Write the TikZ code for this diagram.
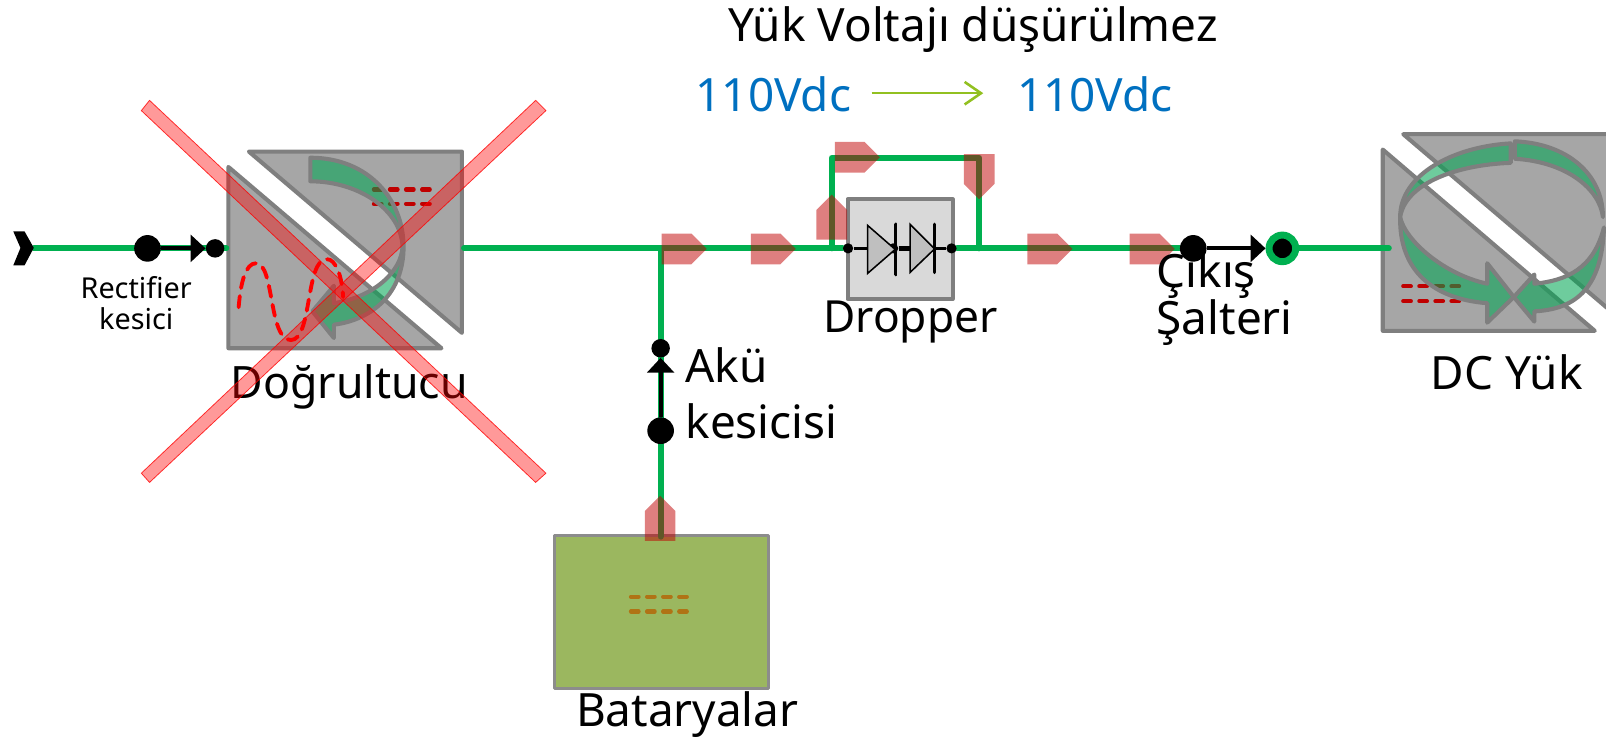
\documentclass[tikz,border=0pt]{standalone}
\usepackage{fontspec}
\setmainfont{Noto Sans}
\usetikzlibrary{arrows.meta}
\tikzset{>=latex}
\pgfdeclarelayer{back}
\pgfdeclarelayer{wires}
\pgfsetlayers{back,wires,main}
\definecolor{feedcol}{HTML}{00B050}
\definecolor{ribcol}{HTML}{00A552}
\definecolor{boxcol}{HTML}{A6A6A6}
\definecolor{edgecol}{HTML}{7F7F7F}
\definecolor{flowcol}{HTML}{C00000}
\definecolor{battcol}{HTML}{9BB75F}
\definecolor{battdash}{HTML}{B07315}
\definecolor{voltcol}{HTML}{0070C0}
\definecolor{gocol}{HTML}{92C020}
\tikzset{bigdot/.style={inner sep=0,circle,fill=black,minimum size=0.52cm}}
\tikzset{smalldot/.style={inner sep=0,circle,fill=black,minimum size=0.36cm}}
\tikzset{tinydot/.style={inner sep=0,circle,fill=black,minimum size=0.2cm}}
\tikzset{feeder/.style={feedcol,line width=1.15mm,line cap=round}}
\tikzset{breaker/.style={black,line width=0.8mm,-{Triangle[length=2.9mm,width=5.2mm]}}}
\tikzset{conv/.style={fill=boxcol,draw=edgecol,line width=0.8mm,line join=round}}
\tikzset{ribbon/.style={fill=ribcol,fill opacity=0.57,draw=edgecol,line width=0.8mm,line join=round}}
\tikzset{crossbar/.style={fill=red,fill opacity=0.4,draw=red,draw opacity=0.8,line width=0.15mm}}
\tikzset{dcmark/.style={line width=0.8mm,line cap=round,dash pattern=on 1.5mm off 1.64mm}}
\tikzset{big/.style={font=\fontsize{25.5}{22}\selectfont,inner sep=0,align=left}}
\tikzset{flowmark/.pic={\fill[flowcol,opacity=0.5] (0,-15) -- (29,-15) -- (44,0) -- (29,15) -- (0,15) -- cycle;}}

\begin{document}
\begin{tikzpicture}[x=0.02cm,y=-0.02cm]
    \useasboundingbox (0,0) rectangle (1568,725.4);

    % texts on top
    \node[big] (title) at (950,29) {Yük Voltajı düşürülmez};
    \node[big,voltcol] (vin) at (755,92) {110Vdc};
    \node[big,voltcol] (vout) at (1069,92) {110Vdc};
    \coordinate (goa) at (851,91);
    \coordinate (gob) at (960,91);
    \draw[gocol,line width=0.5mm,-{Straight Barb[length=3.2mm,width=4.4mm]}] (goa) -- (gob);

    \begin{pgfonlayer}{back}
    \clip (0,0) rectangle (1568,725.4);
    % converter and battery bodies
    \draw[conv] (223,163) -- (223,340) -- (431,340) -- cycle;
    \draw[conv] (243,148) -- (451,148) -- (451,325) -- cycle;
    \draw[conv] (1350,146) -- (1350,323) -- (1557,323) -- cycle;
    \draw[conv] (1370,131) -- (1620,131) -- (1620,344) -- cycle;
    \draw[fill=battcol,draw=edgecol!90,line width=0.55mm,line join=round] (541,522.5) rectangle (750.5,672.5);
    \draw[fill=black!15,draw=edgecol,line width=0.8mm,line join=round] (827.5,194.5) rectangle (930,292);

    % dc marks
    \draw[flowcol,dcmark] (365,185) -- (422,185);
    \draw[flowcol,dcmark] (365,199) -- (422,199);
    \draw[flowcol,dcmark] (1370,279.5) -- (1426,279.5);
    \draw[flowcol,dcmark] (1370,294) -- (1426,294);
    \draw[battdash,dcmark] (616,582.5) -- (673,582.5);
    \draw[battdash,dcmark] (616,597) -- (673,597);
    \draw[red,line width=0.75mm,dash pattern=on 2.2mm off 1.6mm,line cap=round] (233,300) .. controls (235,275) and (240,257) .. (250,257) .. controls (268,257) and (262,332) .. (284,332) .. controls (305,332) and (298,253) .. (319,253) .. controls (328,253) and (334,270) .. (335,290);

    % ribbons
    \draw[ribbon] (303,154) .. controls (360,154) and (394,195) .. (394,241) .. controls (394,285) and (365,312) .. (326,317) -- (326,330) -- (305,304) -- (326,279) -- (326,296) .. controls (365,290) and (392,265) .. (393,241) .. controls (392,205) and (350,177) .. (303,177) -- cycle;
    \draw[ribbon] (1367,212) .. controls (1367,170) and (1420,143) .. (1475,140) -- (1475,159) .. controls (1420,161) and (1372,180) .. (1367,212) -- cycle;
    \draw[ribbon] (1479,138) .. controls (1530,140) and (1565,170) .. (1565,212) .. controls (1562,185) and (1530,158) .. (1479,155) -- cycle;
    \draw[ribbon] (1367,212) .. controls (1372,235) and (1410,268) .. (1452,277) -- (1452,257) -- (1478,290) -- (1452,315) -- (1452,296) .. controls (1400,292) and (1366,265) .. (1367,212) -- cycle;
    \draw[ribbon] (1566,222) .. controls (1564,285) and (1535,302) .. (1498,304) -- (1498,314) -- (1478,290) -- (1498,268) -- (1498,277) .. controls (1530,274) and (1556,262) .. (1566,222) -- cycle;
    \end{pgfonlayer}

    % feeder lines
    \coordinate (inlet) at (33,242.5);
    \coordinate (recin) at (221,242.5);
    \coordinate (recout) at (453,242.5);
    \coordinate (tee) at (645,242.5);
    \coordinate (byin) at (812,242.5);
    \coordinate (bya) at (812,154);
    \coordinate (byb) at (956,154);
    \coordinate (byout) at (956,242.5);
    \coordinate (battop) at (645,524);
    \coordinate (loadin) at (1356,242.5);
    \node[bigdot] (recbrk) at (144,242.5) {};
    \node[smalldot] (recend) at (210,242.5) {};
    \node[bigdot] (outbrk) at (1165,242.5) {};
    \node[circle,inner sep=0,minimum size=0.52cm,draw=feedcol,line width=1.36mm,fill=black] (outend) at (1252,242.5) {};
    \node[bigdot] (akubrk) at (645,420.5) {};
    \node[smalldot] (akuend) at (645,340) {};
    \node[tinydot] (dropin) at (828,242.5) {};
    \node[tinydot] (dropmid) at (872,242.5) {};
    \node[tinydot] (dropout) at (929,242.5) {};

    \fill (13,226) -- (24,226) -- (33,242) -- (24,259) -- (13,259) -- (20,242) -- cycle;
    \begin{pgfonlayer}{wires}
    \draw[feeder] (inlet) -- (recin);
    \draw[feeder] (recout) -- (dropin);
    \draw[feeder] (dropout) -- (outbrk);
    \draw[feeder] (outend) -- (loadin);
    \draw[feeder] (tee) -- (battop);
    \draw[feeder,line join=round] (byin) -- (bya) -- (byb) -- (byout);
    \end{pgfonlayer}

    \draw[breaker] (recbrk) -- (recend);
    \draw[breaker] (outbrk) -- (outend);
    \draw[breaker] (akubrk) -- (akuend);

    % dropper diodes
    \draw[fill=black!25,line width=0.3mm] (847,220) -- (847,267) -- (874,243.5) -- cycle;
    \draw[fill=black!25,line width=0.3mm] (888.5,219) -- (888.5,266) -- (912.5,243) -- cycle;
    \draw[line width=0.7mm,line cap=round] (874.5,219) -- (874.5,268);
    \draw[line width=0.7mm,line cap=round] (912.5,219) -- (912.5,266);
    \draw[line width=0.6mm] (dropin) -- (847,242.5);
    \draw[line width=1.1mm] (dropmid) -- (888.5,242.5);
    \draw[line width=0.6mm] (912.5,242.5) -- (dropout);

    % flow marks
    \pic at (646,243) {flowmark};
    \pic at (733,243) {flowmark};
    \pic[rotate=90] at (812,234) {flowmark};
    \pic at (815,153.5) {flowmark};
    \pic[rotate=-90] at (956,150.5) {flowmark};
    \pic at (1003,243) {flowmark};
    \pic at (1103,243) {flowmark};
    \pic[rotate=90] at (644.5,528) {flowmark};

    % labels
    \node[font=\fontsize{16}{17.5}\selectfont,inner sep=0,align=center] (reclabel) at (133,296) {Rectifier\\kesici};
    \node[big,font=\fontsize{24.8}{22}\selectfont] (doglabel) at (341,378) {Doğrultucu};
    \node[big,anchor=west] (akulabel) at (669,384) {Akü\\[9pt]kesicisi};
    \node[big,font=\fontsize{24.6}{22}\selectfont] (droplabel) at (889,314) {Dropper};
    \node[big,anchor=west] (outlabel) at (1129,292) {Çıkış\\Şalteri};
    \node[big] (loadlabel) at (1471,363) {DC Yük};
    \node[big] (battlabel) at (671,698) {Bataryalar};

    % out of service cross
    \draw[crossbar] (138,108) -- (146,98) -- (533,462) -- (523,471) -- cycle;
    \draw[crossbar] (523,98) -- (533,108) -- (146,471) -- (138,462) -- cycle;
\end{tikzpicture}
\end{document}
